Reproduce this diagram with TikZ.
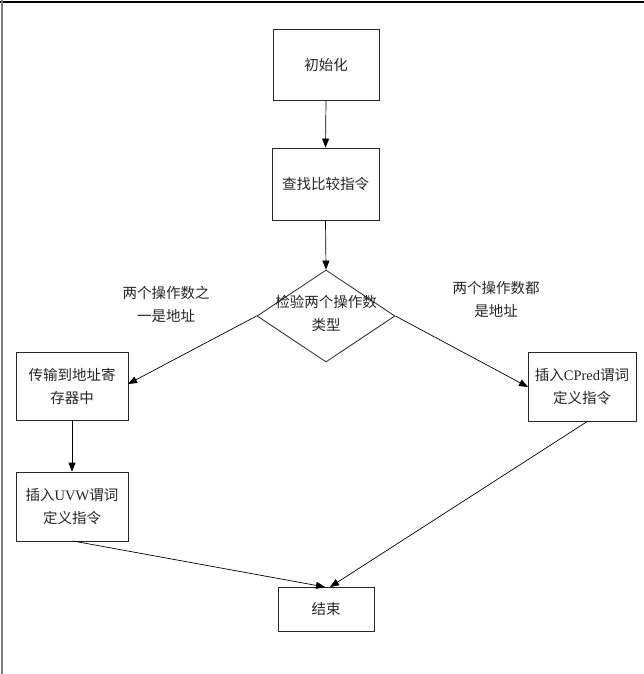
\documentclass[tikz,border=0pt]{standalone}
\usepackage{fontspec}
\setmainfont{Liberation Serif}
\newfontfamily\cjk{Noto Sans CJK SC}
\usetikzlibrary{arrows.meta,shapes.geometric}
\begin{document}
\begin{tikzpicture}[x=1pt,y=-1pt,
  txt/.style={align=center, inner sep=0pt, text=black!85, font=\fontsize{14.5}{23}\selectfont\cjk},
  box/.style={txt, draw=black!85, line width=0.8pt, rectangle},
  dia/.style={txt, draw=black!85, line width=0.8pt, diamond, minimum width=138pt, minimum height=92pt, aspect=1.5},
  arr/.style={draw=black, line width=0.7pt, -{Triangle[length=9pt,width=7pt]}}]
\useasboundingbox (0,0) rectangle (644,674);
\fill[white] (0,0) rectangle (644,674);
\draw[black, line width=2pt] (0,2) -- (644,2);
\draw[black!50, line width=2pt] (2,0) -- (2,674);

\node[box, minimum width=106pt, minimum height=71pt] (init) at (326,64.5) {初始化};
\node[box, minimum width=107pt, minimum height=72pt] (find) at (325.5,184) {查找比较指令};
\node[dia] (chk) at (326,316) {};
\node[txt] (chkt) at (326,313) {检验两个操作数\\类型};
\node[box, minimum width=112pt, minimum height=68pt] (trans) at (72,386) {传输到地址寄\\存器中};
\node[box, minimum width=112pt, minimum height=69pt] (uvw) at (72,506.5) {插入{\rmfamily UVW}谓词\\定义指令};
\node[box, minimum width=108pt, minimum height=69pt] (cpred) at (582,386.5) {插入{\rmfamily CPred}谓词\\定义指令};
\node[box, minimum width=96pt, minimum height=44pt] (end) at (326,609) {结束};

\node[txt] (lab1) at (166,304) {两个操作数之\\一是地址};
\node[txt] (lab2) at (496,299) {两个操作数都\\是地址};

\coordinate (u1) at (73,541);
\coordinate (u2) at (325,587);
\coordinate (c1) at (588,421);
\coordinate (c2) at (330,587);
\coordinate (t1) at (128,384);
\coordinate (p1) at (528,387);

\draw[arr] (init.south) -- (find.north);
\draw[arr] (find.south) -- (chk.north);
\draw[arr] (chk.west) -- (t1);
\draw[arr] (chk.east) -- (p1);
\draw[arr] (trans.south) -- (uvw.north);
\draw[arr] (u1) -- (u2);
\draw[arr] (c1) -- (c2);
\end{tikzpicture}
\end{document}
